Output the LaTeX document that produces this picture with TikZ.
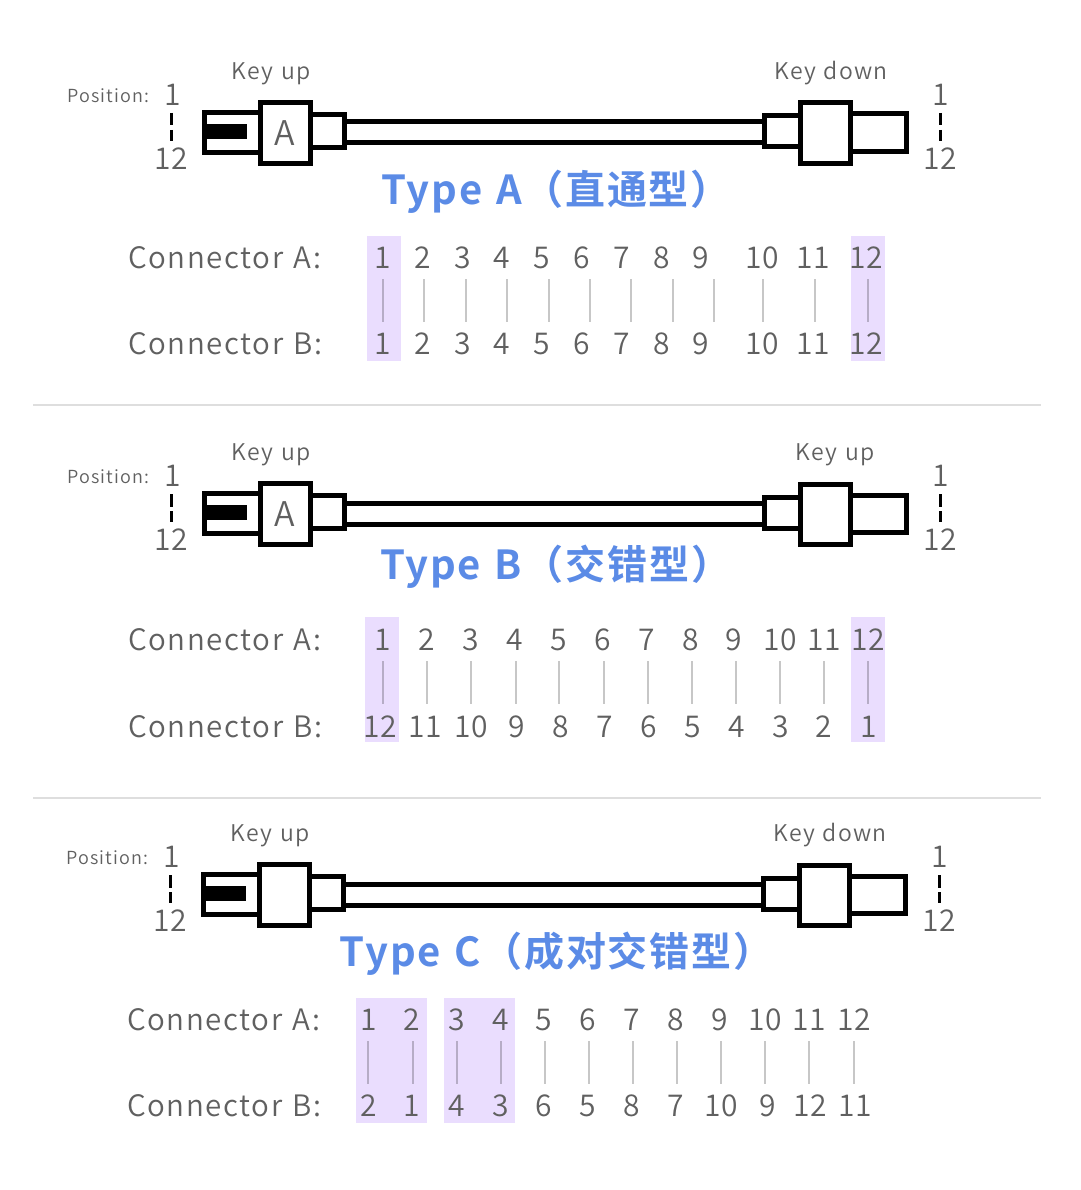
\documentclass[tikz,border=0pt]{standalone}
\usepackage{fontspec}
\setmainfont{Noto Sans CJK SC}[UprightFont=* DemiLight,BoldFont=* Bold,WordSpace=1.25]

\definecolor{textgray}{HTML}{606060}
\definecolor{titleblue}{HTML}{5B8BE6}
\definecolor{markpurple}{HTML}{EADDFE}
\definecolor{rulegray}{HTML}{DEDEDE}

\begin{document}
\begin{tikzpicture}[
        x=1pt, y=-1pt,
        part/.style={rectangle, draw, line width=5pt, fill=white, inner sep=0pt},
        tab/.style={rectangle, fill=black, inner sep=0pt, minimum width=41pt, minimum height=15pt},
        num/.style={text=textgray, inner sep=0pt, xshift=0.3pt, font=\fontsize{30}{30}\selectfont},
        rowname/.style={text=textgray, inner sep=0pt, anchor=west, font=\addfontfeature{LetterSpace=5.5}\fontsize{29.5}{30}\selectfont},
        keytext/.style={text=textgray, inner sep=0pt, font=\addfontfeature{LetterSpace=5.5}\fontsize{23}{23}\selectfont},
        postext/.style={text=textgray, inner sep=0pt, anchor=west, font=\addfontfeature{LetterSpace=6.5}\fontsize{18}{18}\selectfont},
        titletext/.style={text=titleblue, inner sep=0pt, font=\addfontfeature{LetterSpace=4.5}\fontsize{40}{40}\selectfont\bfseries},
        wire/.style={black, opacity=0.22, line width=1.5pt},
        sep/.style={rulegray, line width=2pt},
        tick/.style={black, line width=3pt, dash pattern=on 12.5pt off 4.5pt}
    ]

        \useasboundingbox (0,0) rectangle (1080,1190);

        % Cables: one per section
        \foreach \n/\dx/\dy in {a/0/0, b/0/381, c/-1/762} {
            \begin{scope}[shift={(\dx,\dy)}]
                \node[postext] (pos\n) at (67,95.5) {Position:};
                \node[num] (lefttop\n) at (172,94.5) {1};
                \node[num] (leftbot\n) at (171,158.5) {12};
                \node[num] (righttop\n) at (940,94.5) {1};
                \node[num] (rightbot\n) at (940,158.5) {12};
                \coordinate (ltick\n) at (171,113);
                \coordinate (ltickb\n) at (171,141);
                \coordinate (rtick\n) at (940,113);
                \coordinate (rtickb\n) at (940,141);
                \draw[tick] (ltick\n) -- (ltickb\n);
                \draw[tick] (rtick\n) -- (rtickb\n);

                \node[keytext] (keyl\n) at (271,73.5) {Key up};
                \node[part, minimum width=420pt, minimum height=21pt] (cable\n) at (554,132.5) {};
                \node[part, minimum width=56pt, minimum height=40pt] (plug\n) at (232.5,132.5) {};
                \node[tab] (tab\n) at (226.5,131.5) {};
                \node[part, minimum width=34pt, minimum height=33pt] (neck\n) at (327.5,131) {};
                \node[part, minimum width=36.5pt, minimum height=31pt] (neckr\n) at (782.75,131.5) {};
                \node[part, minimum width=56pt, minimum height=37.5pt] (rear\n) at (878.5,132.75) {};
                \node[part, minimum width=50pt, minimum height=60.5pt] (bodyr\n) at (825.5,133.25) {};
            \end{scope}
        }

        % Left bodies: the last section has no letter
        \node[part, minimum width=50pt, minimum height=61pt, text=textgray, font=\fontsize{34}{34}\selectfont] (bodya) at (285.5,133) {\kern-2pt A};
        \node[part, minimum width=50pt, minimum height=61pt, text=textgray, font=\fontsize{34}{34}\selectfont] (bodyb) at (285.5,514) {\kern-2pt A};
        \node[part, minimum width=50pt, minimum height=61pt] (bodyc) at (284.5,895) {};

        % Right key labels
        \node[keytext] (keyra) at (831,73.5) {Key down};
        \node[keytext] (keyrb) at (835,454.5) {Key up};
        \node[keytext] (keyrc) at (830,835.5) {Key down};

        % Titles
        \node[titletext] (titlea) at (556,191.5) {Type A（直通型）};
        \node[titletext] (titleb) at (555.5,566.5) {Type B（交错型）};
        \node[titletext] (titlec) at (556.5,953.5) {Type C（成对交错型）};

        % Separators
        \coordinate (sepal) at (33,405);
        \coordinate (separ) at (1041,405);
        \coordinate (sepbl) at (33,798);
        \coordinate (sepbr) at (1041,798);
        \draw[sep] (sepal) -- (separ);
        \draw[sep] (sepbl) -- (sepbr);

        % Highlights
        \fill[markpurple] (367,236) rectangle (401,361);
        \fill[markpurple] (851,236) rectangle (885,361);
        \fill[markpurple] (365,617) rectangle (399,742);
        \fill[markpurple] (851,617) rectangle (885,742);
        \fill[markpurple] (356,998) rectangle (427,1123);
        \fill[markpurple] (444,998) rectangle (515,1123);

        % Type A table
        \node[rowname] (rowaa) at (128,258) {Connector A:};
        \node[rowname] (rowab) at (128,344) {Connector B:};
        \foreach \tx/\ta/\bx/\tb/\lx [count=\i] in {382/1/382/1/383, 422/2/422/2/424, 462/3/462/3/466, 501/4/501/4/507, 541/5/541/5/549, 581/6/581/6/590, 621/7/621/7/631, 661/8/661/8/673, 700/9/700/9/714, 762/10/762/10/763, 813/11/813/11/815, 866/12/866/12/868} {
            \node[num] (atop\i) at (\tx,258) {\ta};
            \node[num] (abot\i) at (\bx,344) {\tb};
            \coordinate (awa\i) at (\lx,279);
            \coordinate (awb\i) at (\lx,322);
            \draw[wire] (awa\i) -- (awb\i);
        }

        % Type B table
        \node[rowname] (rowba) at (128,640) {Connector A:};
        \node[rowname] (rowbb) at (128,727) {Connector B:};
        \foreach \tx/\ta/\bx/\tb/\lx [count=\i] in {382/1/380/12/383, 426/2/425/11/427, 470/3/471/10/471, 514/4/516/9/516, 558/5/560/8/559, 602/6/604/7/604, 646/7/648/6/648, 690/8/692/5/692, 733/9/736/4/736, 780/10/780/3/780, 824/11/823/2/824, 868/12/868/1/868} {
            \node[num] (btop\i) at (\tx,640) {\ta};
            \node[num] (bbot\i) at (\bx,727) {\tb};
            \coordinate (bwa\i) at (\lx,661);
            \coordinate (bwb\i) at (\lx,704);
            \draw[wire] (bwa\i) -- (bwb\i);
        }

        % Type C table
        \node[rowname] (rowca) at (127,1020) {Connector A:};
        \node[rowname] (rowcb) at (127,1106) {Connector B:};
        \foreach \tx/\ta/\bx/\tb/\lx [count=\i] in {368/1/368/2/368, 411/2/411/1/413, 456/3/456/4/457, 500/4/500/3/501, 543/5/543/6/545, 587/6/587/5/589, 631/7/631/8/633, 675/8/675/7/677, 719/9/721/10/721, 765/10/767/9/765, 809/11/810/12/809, 854/12/855/11/854} {
            \node[num] (ctop\i) at (\tx,1020) {\ta};
            \node[num] (cbot\i) at (\bx,1106) {\tb};
            \coordinate (cwa\i) at (\lx,1041);
            \coordinate (cwb\i) at (\lx,1084);
            \draw[wire] (cwa\i) -- (cwb\i);
        }

    \end{tikzpicture}
\end{document}
